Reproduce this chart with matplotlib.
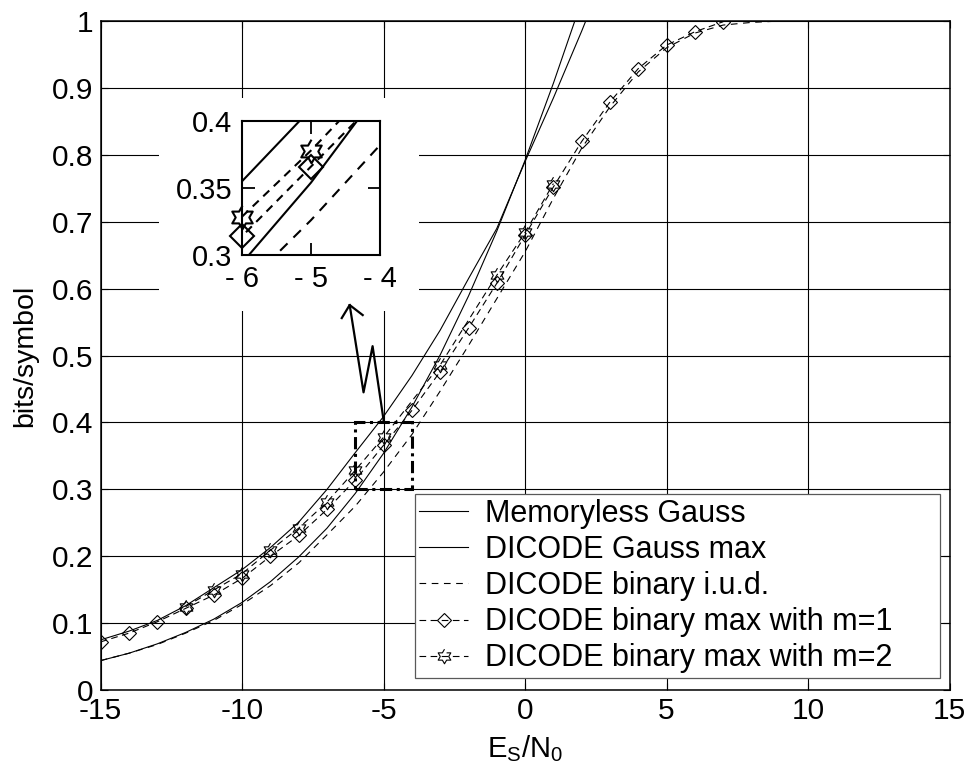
import numpy as np
import matplotlib
matplotlib.use("Agg")
import matplotlib.pyplot as plt
from matplotlib.patches import Rectangle

plt.rcParams['font.family'] = ['Liberation Sans', 'DejaVu Sans']
plt.rcParams['axes.unicode_minus'] = False
plt.rcParams['mathtext.default'] = 'regular'

# ---- data ----
snr_gauss = [-15, -14, -13, -12, -11, -10, -9, -8, -7, -6, -5, -4, -3, -2, -1, 0, 1, 2, 3]
memoryless_gauss = [0.044, 0.055, 0.069, 0.086, 0.106, 0.131, 0.162, 0.199, 0.242, 0.294,
                    0.354, 0.423, 0.501, 0.589, 0.686, 0.792, 0.907, 1.03, 1.16]
dicode_gauss_max = [0.075, 0.088, 0.104, 0.126, 0.153, 0.180, 0.213, 0.251, 0.300, 0.355,
                    0.409, 0.470, 0.538, 0.615, 0.690, 0.790, 0.885, 0.985, 1.09]

snr_iud = list(range(-15, 14))
dicode_iud = [0.044, 0.055, 0.068, 0.085, 0.104, 0.128, 0.156, 0.190, 0.232, 0.275,
              0.326, 0.382, 0.447, 0.515, 0.585, 0.655, 0.735, 0.810, 0.872, 0.924,
              0.960, 0.982, 0.994, 0.998, 1.0, 1.0, 1.0, 1.0, 1.0]

snr_m1 = list(range(-15, 8))
dicode_m1 = [0.072, 0.085, 0.102, 0.122, 0.142, 0.167, 0.200, 0.231, 0.270, 0.314,
             0.366, 0.418, 0.476, 0.541, 0.608, 0.680, 0.752, 0.820, 0.879, 0.929,
             0.964, 0.984, 0.999]

snr_m2 = [-12, -11, -10, -9, -8, -7, -6, -5, -3, -1, 0, 1]
dicode_m2 = [0.1245, 0.1495, 0.174, 0.209, 0.242, 0.281, 0.3286, 0.378, 0.486, 0.620, 0.684, 0.757]

labels = ['Memoryless Gauss', 'DICODE Gauss max', 'DICODE binary i.u.d.',
          'DICODE binary max with m=1', 'DICODE binary max with m=2']

# hexagram marker (star of David)
ang = np.deg2rad(90 + 30 * np.arange(12))
rad = np.where(np.arange(12) % 2 == 0, 1.0, 1 / np.sqrt(3))
hexagram = list(zip(rad * np.cos(ang), rad * np.sin(ang)))


def draw_curves(ax, lw, ms_d, ms_h, dash_a, dash_b):
    h = []
    h += ax.plot(snr_gauss, memoryless_gauss, color='k', lw=lw)
    h += ax.plot(snr_gauss, dicode_gauss_max, color='k', lw=lw)
    h += ax.plot(snr_iud, dicode_iud, color='k', lw=lw, dashes=dash_a)
    h += ax.plot(snr_m1, dicode_m1, color='k', lw=lw, dashes=dash_b, marker='D',
                 ms=ms_d, mfc='none', mec='k', mew=lw)
    h += ax.plot(snr_m2, dicode_m2, color='k', lw=lw, dashes=dash_b, marker=hexagram,
                 ms=ms_h, mfc='none', mec='k', mew=lw)
    return h


fig = plt.figure(figsize=(9.69, 7.74), dpi=100)
ax = fig.add_axes([0.1039, 0.1085, 0.876, 0.8643])

handles = draw_curves(ax, 0.8, 7, 10.5, (6, 5), (6, 4))
ax.set_xlim(-15, 15)
ax.set_ylim(0, 1)
ax.set_xticks([-15, -10, -5, 0, 5, 10, 15])
ax.set_yticks(np.arange(0, 1.01, 0.1))
ax.set_yticklabels(['0', '0.1', '0.2', '0.3', '0.4', '0.5', '0.6', '0.7', '0.8', '0.9', '1'])
ax.grid(True, color='k', lw=0.8)
ax.tick_params(direction='in', length=5, top=True, right=True, labelsize=21.5, pad=5)
for s in ax.spines.values():
    s.set_linewidth(1.1)
ax.set_xlabel('E$_S$/N$_0$', fontsize=21, labelpad=6)
ax.set_ylabel('bits/symbol', fontsize=20.5, labelpad=10)

# white area behind the inset and its labels
ax.add_patch(Rectangle((0.1641, 0.5982), 0.2683, 0.2752, transform=fig.transFigure,
                       facecolor='white', edgecolor='none', zorder=1.8))

# zoom box and zig-zag arrow
ax.add_patch(Rectangle((-6, 0.3), 2, 0.1, fill=False, lw=2.2, ec='k',
                       linestyle=(0, (4, 1.5, 1, 1.5)), zorder=3))
ax.plot([-5.0, -5.39, -5.71, -6.20], [0.403, 0.514, 0.445, 0.5755], color='k', lw=1.6,
        zorder=3, clip_on=False)
ax.plot([-6.48, -6.20, -5.74], [0.556, 0.5755, 0.5605], color='k', lw=1.6, zorder=3)

leg = ax.legend(handles, labels, loc='lower left', bbox_to_anchor=(0.370, 0.018, 0.619, 0.27),
                mode='expand', fontsize=22, frameon=True, fancybox=False, edgecolor='0.35',
                framealpha=1, handlelength=1.6, handletextpad=0.55, labelspacing=0.2,
                borderpad=0.15, borderaxespad=0, numpoints=1)
leg.get_frame().set_linewidth(0.9)

# inset
axi = fig.add_axes([0.2497, 0.6705, 0.1424, 0.1731])
axi.set_zorder(2)
draw_curves(axi, 1.5, 12.5, 17, (5, 4), (4, 3))
for m in axi.lines[3:]:
    m.set_marker('None')
x0, x1, y0, y1 = -6, -4, 0.3, 0.4
for xs, ys, mk in [(snr_m1, dicode_m1, 'D'), (snr_m2, dicode_m2, hexagram)]:
    keep = [(x, y) for x, y in zip(xs, ys) if x0 <= x <= x1 and y0 <= y <= y1]
    axi.plot([p[0] for p in keep], [p[1] for p in keep], ls='none', marker=mk,
             ms=12.5 if mk == 'D' else 17, mfc='none', mec='k', mew=1.5, clip_on=False)
axi.set_xlim(x0, x1)
axi.set_ylim(y0, y1)
axi.set_xticks([-6, -5, -4])
axi.set_xticklabels(['- 6', '- 5', '- 4'])
axi.set_yticks([0.3, 0.35, 0.4])
axi.set_yticklabels(['0.3', '0.35', '0.4'])
axi.tick_params(direction='in', length=9, width=1.3, top=True, right=True,
                labelsize=21, pad=7)
for s in axi.spines.values():
    s.set_linewidth(1.5)

fig.savefig('out.png', dpi=100)
